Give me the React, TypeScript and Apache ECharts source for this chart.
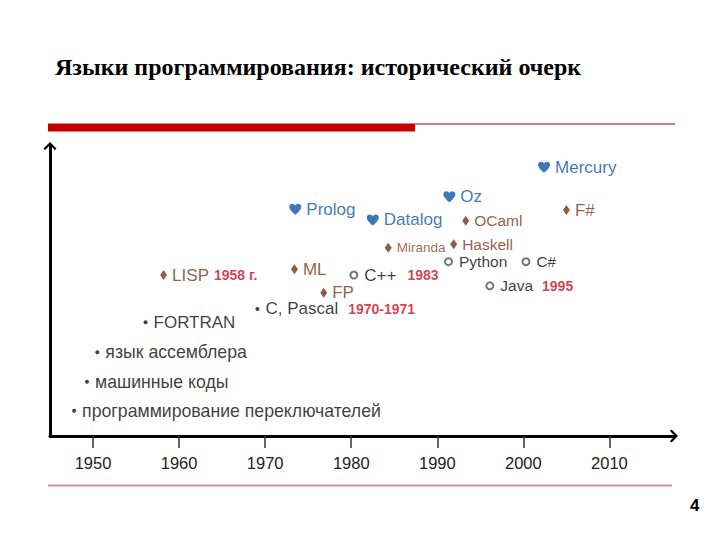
import React, { useEffect, useRef } from "react";
import * as echarts from "echarts";

// ---- data ----
const TITLE = "Языки программирования: исторический очерк";
const PAGE = "4";
const yearTicks = [1950, 1960, 1970, 1980, 1990, 2000, 2010];

// bullets (early languages)
const bulletNames = ["программирование переключателей", "машинные коды", "язык ассемблера", "FORTRAN", "C, Pascal"];
const bulletYears = [1947.8, 1949.3, 1950.5, 1956.1, 1969.1];
const bulletLevels = [8.7, 18.7, 28.9, 39.2, 43.8];

// diamonds (functional)
const diamondNames = ["LISP", "ML", "FP", "Miranda", "Haskell", "OCaml", "F#"];
const diamondYears = [1958.2, 1973.4, 1976.8, 1984.3, 1991.9, 1993.3, 2005.0];
const diamondLevels = [55.5, 57.5, 49.4, 64.9, 66.1, 74.2, 77.9];

// hearts (logic)
const heartNames = ["Prolog", "Datalog", "Oz", "Mercury"];
const heartYears = [1973.5, 1982.5, 1991.4, 2002.4];
const heartLevels = [78.2, 74.5, 82.5, 92.7];

// circles (object-oriented)
const circleNames = ["C++", "Python", "C#", "Java"];
const circleYears = [1980.3, 1991.3, 2000.3, 1996.1];
const circleLevels = [55.5, 60.1, 60.1, 51.8];

// year notes
const notes: Record<string, string> = {
  LISP: "1958 г.",
  "C, Pascal": "1970-1971",
  "C++": "1983",
  Java: "1995",
};

// ---- styles ----
const FONT = "Liberation Sans, Arial, sans-serif";
const BLUE = "#0f55a5";
const BROWN = "#7a3418";
const RED = "#c8101f";
const BLACK = "#0a0a0a";
const labelSize: Record<string, number> = {
  "программирование переключателей": 17.7,
  "машинные коды": 17.7,
  "язык ассемблера": 17.7,
  Miranda: 13.5,
  Haskell: 15.5,
  OCaml: 15.5,
  Python: 15.5,
  "C#": 15.2,
  Java: 15.5,
};
const noteGap: Record<string, number> = { LISP: 5, "C, Pascal": 10, "C++": 11, Java: 9 };
const labelColor: Record<string, string> = { Miranda: "#8a4628" };

const HEART =
  "path://M10,18 C10,18 0,11 0,5 C0,2 2.5,0 5,0 C7.5,0 9,1.5 10,3 C11,1.5 12.5,0 15,0 C17.5,0 20,2 20,5 C20,11 10,18 10,18 Z";
const CHEVRON = "path://M10,0 L20,10 L17.6,12.4 L10,4.8 L2.4,12.4 L0,10 Z";

function buildData(names: string[], years: number[], levels: number[], color: string) {
  return names.map((n, i) => {
    const note = notes[n];
    return {
      name: n,
      value: [years[i], levels[i]],
      label: {
        fontSize: labelSize[n] ?? 17,
        color: labelColor[n] ?? color,
        formatter: note ? `${n}{y|${note}}` : n,
        rich: {
          y: {
            fontFamily: FONT,
            fontSize: 14,
            fontWeight: "bold",
            color: RED,
            padding: [0, 0, 0, noteGap[n] ?? 8],
            verticalAlign: "middle",
          },
        },
      },
    };
  });
}

export default function App() {
  const ref = useRef<HTMLDivElement>(null);
  useEffect(() => {
    if (!ref.current) return;
    const chart = echarts.init(ref.current, undefined, { renderer: "svg" });
    const baseLabel = {
      show: true,
      position: "right",
      distance: 5,
      fontFamily: FONT,
      fontSize: 17,
    };
    chart.setOption({
      animation: false,
      backgroundColor: "#ffffff",
      title: {
        text: TITLE,
        left: 55,
        top: 55,
        padding: 0,
        textStyle: {
          fontFamily: "Liberation Serif, Times New Roman, serif",
          fontWeight: "bold",
          fontSize: 24,
          color: "#000000",
        },
      },
      graphic: [
        { type: "rect", shape: { x: 48, y: 123.5, width: 367, height: 8 }, style: { fill: "#c40000" } },
        { type: "line", shape: { x1: 415, y1: 124, x2: 675, y2: 124 }, style: { stroke: "#b00000", lineWidth: 1 } },
        { type: "line", shape: { x1: 48, y1: 485.5, x2: 672, y2: 485.5 }, style: { stroke: "#c29c96", lineWidth: 2.2 } },
        {
          type: "text",
          x: 690,
          y: 497,
          style: { text: PAGE, fontFamily: FONT, fontWeight: "bold", fontSize: 17, fill: "#000000" },
        },
      ],
      grid: { left: 50, right: 46, top: 146, bottom: 104, containLabel: false },
      xAxis: {
        type: "value",
        min: 1945,
        max: 2017.5,
        splitLine: { show: false },
        axisLine: {
          onZero: false,
          lineStyle: { color: "#000000", width: 3 },
          symbol: ["none", CHEVRON],
          symbolSize: [13, 8],
        },
        axisTick: { show: true, length: 12, customValues: yearTicks, lineStyle: { color: "#333333", width: 1.5 } },
        axisLabel: {
          customValues: yearTicks,
          margin: 18,
          fontFamily: FONT,
          fontSize: 16.5,
          color: "#222222",
          formatter: (v: number) => String(v),
        },
      },
      yAxis: {
        type: "value",
        min: 0,
        max: 100,
        splitLine: { show: false },
        axisLabel: { show: false },
        axisTick: { show: false },
        axisLine: {
          onZero: false,
          lineStyle: { color: "#000000", width: 3 },
          symbol: ["none", CHEVRON],
          symbolSize: [13, 8],
        },
      },
      series: [
        {
          type: "scatter",
          name: "bullets",
          symbol: "circle",
          symbolSize: 4,
          itemStyle: { color: "#111111" },
          label: { ...baseLabel, distance: 6, color: BLACK },
          data: buildData(bulletNames, bulletYears, bulletLevels, BLACK),
        },
        {
          type: "scatter",
          name: "diamonds",
          symbol: "diamond",
          symbolSize: [7, 10],
          itemStyle: { color: "#73351a" },
          label: { ...baseLabel, color: BROWN },
          data: buildData(diamondNames, diamondYears, diamondLevels, BROWN),
        },
        {
          type: "scatter",
          name: "hearts",
          symbol: HEART,
          symbolSize: [12, 11],
          itemStyle: { color: "#0f55a5" },
          label: { ...baseLabel, color: BLUE },
          data: buildData(heartNames, heartYears, heartLevels, BLUE),
        },
        {
          type: "scatter",
          name: "circles",
          symbol: "emptyCircle",
          symbolSize: 7,
          itemStyle: { color: "#555555", borderWidth: 1.2 },
          label: { ...baseLabel, distance: 6, color: BLACK },
          data: buildData(circleNames, circleYears, circleLevels, BLACK),
        },
      ],
    });
    return () => chart.dispose();
  }, []);
  return <div ref={ref} style={{ position: "fixed", left: 0, top: 0, width: 720, height: 540 }} />;
}
